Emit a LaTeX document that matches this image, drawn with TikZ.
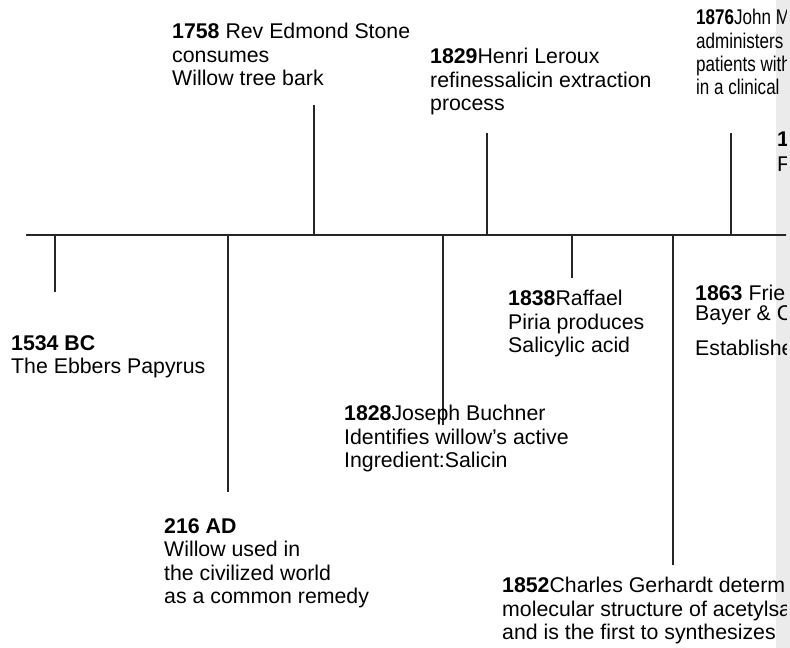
\documentclass[tikz,border=0pt]{standalone}
\usepackage{fontspec}
\setmainfont{Liberation Sans}
\newfontfamily\narrowsans[FakeStretch=0.8]{Liberation Sans}
\begin{document}
\begin{tikzpicture}[x=1pt,y=-1pt]
        \tikzstyle{line}=[line width=1.6pt,draw=black!85]
        \tikzstyle{event}=[anchor=north west,align=left,inner sep=0pt,
            font=\fontsize{21.3}{23.6}\selectfont]

        \useasboundingbox (0,0) rectangle (790,648);
        \fill[black!8] (776,0) rectangle (790,648);

        \begin{scope}
        \clip (0,0) rectangle (786,648);

        %time axis
        \coordinate (axisL) at (26,235);
        \coordinate (axisR) at (800,235);
        \draw [line] (axisL) -- (axisR);

        %ticks: name/x/free end
        \foreach \n/\x/\y in {t1534/55/292, t216/228/492, t1758/314/105,
            t1828/443/425, t1829/487/133, t1838/572/278, t1852/673/565,
            t1876/731/133} {
            \coordinate (\n a) at (\x,235);
            \coordinate (\n b) at (\x,\y);
            \draw [line] (\n a) -- (\n b);
        };

        %events
        \node [event] (e1534) at (11,335) {\textbf{1534 BC}\\The Ebbers Papyrus};
        \node [event] (e216) at (164,518) {\textbf{216 AD}\\Willow used in\\the civilized world\\as a common remedy};
        \node [event] (e1758) at (172,23) {\textbf{1758} Rev Edmond Stone\\consumes\\Willow tree bark};
        \node [event] (e1828) at (344,405) {\textbf{1828}Joseph Buchner\\Identifies willow’s active\\Ingredient:Salicin};
        \node [event] (e1829) at (430,48) {\textbf{1829}Henri Leroux\\refinessalicin extraction\\process};
        \node [event] (e1838) at (508,290) {\textbf{1838}Raffael\\Piria produces\\Salicylic acid};
        \node [event] (e1852) at (502,577) {\textbf{1852}Charles Gerhardt determ\\molecular structure of acetylsa\\and is the first to synthesizes};
        \node [event] (e1863) at (695,285) {\textbf{1863} Frie\\[-3.6pt]Bayer \& C\\[11.4pt]Establishe};
        \node [event,font=\narrowsans\fontsize{21.3}{23.4}\selectfont] (e1876) at (696,9)
            {\textbf{1876}John M\\administers\\patients with\\in a clinical};
        \node [event] (elast) at (777,132) {\textbf{1}\\[1.4pt]F};
        \end{scope}
\end{tikzpicture}
\end{document}
